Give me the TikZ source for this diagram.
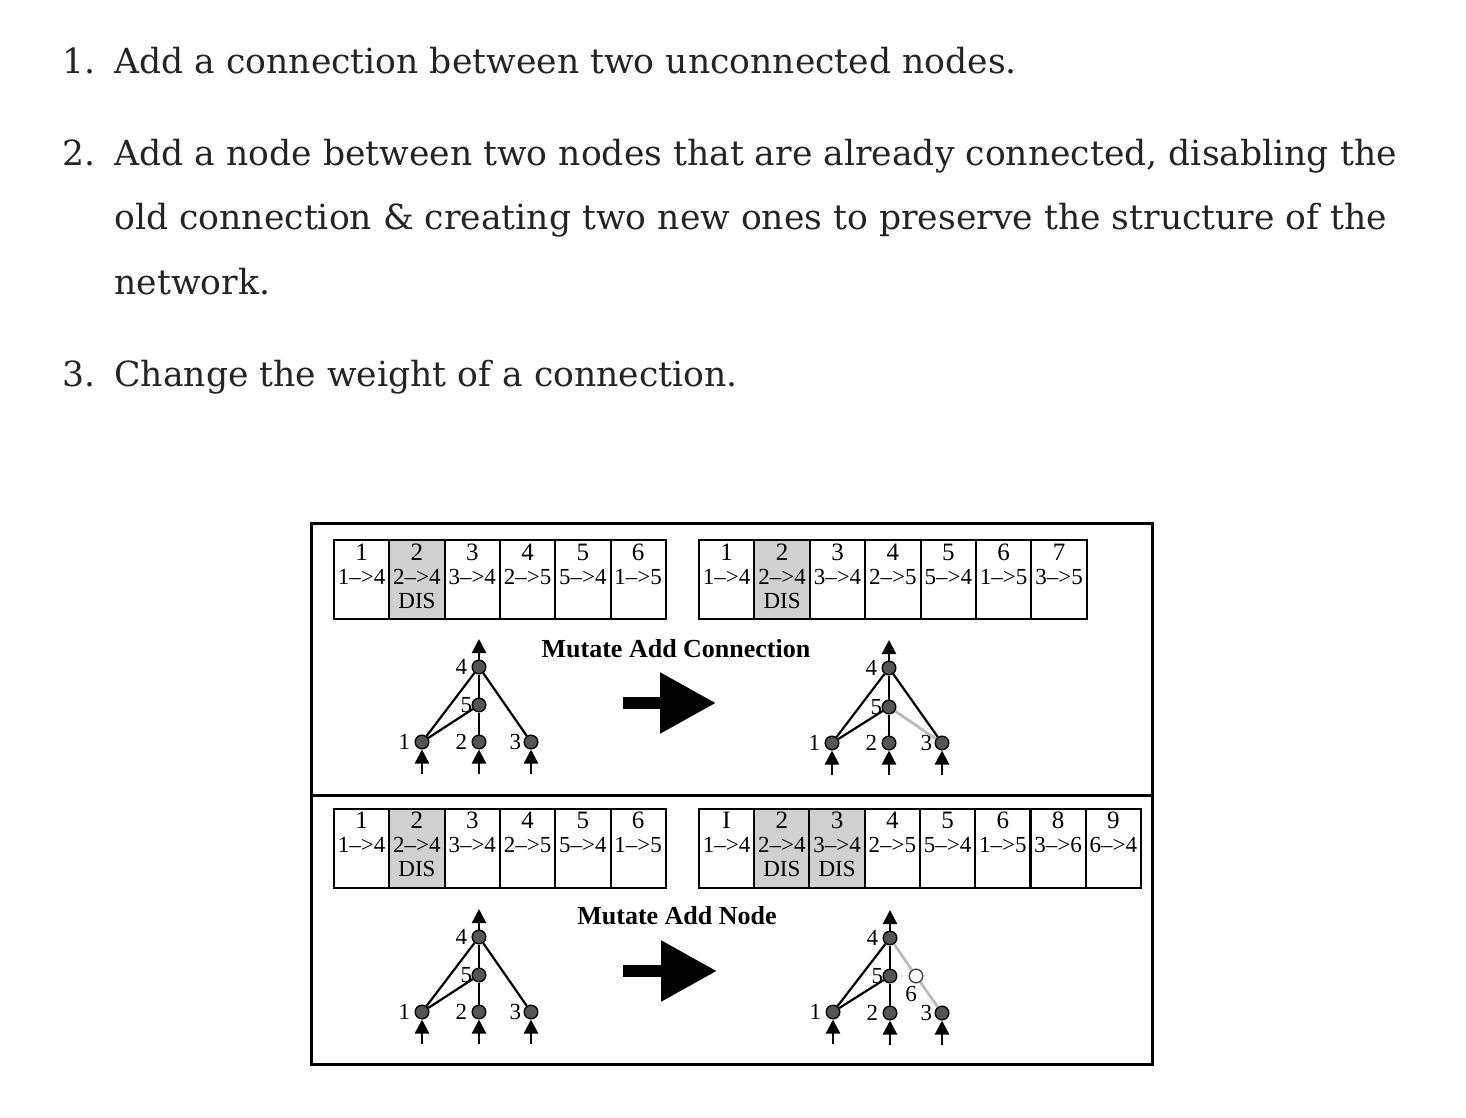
\documentclass[tikz,border=0pt]{standalone}
\usepackage{fontspec}
\setmainfont{DejaVu Serif}
\newfontfamily\figfont{Liberation Serif}
\usetikzlibrary{arrows.meta,positioning}
\definecolor{listtext}{HTML}{242424}
\definecolor{disgray}{HTML}{D0D0D0}
\definecolor{nodegray}{HTML}{555555}
\definecolor{newgray}{HTML}{BBBBBB}

\tikzset{
  listline/.style={anchor=base west, inner sep=0pt, text=listtext,
    font=\fontsize{17.3}{17.3}\selectfont},
  gene/.style={draw, line width=1pt, minimum width=27.65pt, minimum height=39.5pt,
    inner sep=0pt, align=center, font=\figfont\fontsize{11.5}{12}\selectfont},
  disgene/.style={gene, fill=disgray},
  neuron/.style={circle, draw, line width=0.7pt, fill=nodegray, minimum size=6.8pt, inner sep=0pt},
  newneuron/.style={circle, draw=black!75, line width=0.7pt, fill=white, minimum size=6.8pt, inner sep=0pt},
  nlabel/.style={font=\figfont\fontsize{11.5}{11.5}\selectfont, inner sep=0pt},
  link/.style={line width=1.1pt},
  newlink/.style={line width=1.4pt, newgray},
  io/.style={line width=1.2pt, -{Triangle[length=7pt,width=7pt]}},
  bigarrow/.style={line width=6pt, -{Triangle[length=28pt,width=29pt]}},
  mtitle/.style={font=\figfont\bfseries\fontsize{13}{13}\selectfont}
}

\begin{document}
\begin{tikzpicture}[x=0.5pt,y=-0.5pt]
\useasboundingbox (0,0) rectangle (1466,1118);

% the list above the figure
\node[listline] (n1) at (62,74) {1.};
\node[listline] (t1) at (114,74) {Add a connection between two unconnected nodes.};
\node[listline] (n2) at (62,166) {2.};
\node[listline] (t2) at (114,166) {Add a node between two nodes that are already connected, disabling the};
\node[listline] (t3) at (114,230) {old connection \& creating two new ones to preserve the structure of the};
\node[listline] (t4) at (114,294) {network.};
\node[listline] (n3) at (62,386) {3.};
\node[listline] (t5) at (114,386) {Change the weight of a connection.};

% frame
\draw[line width=1.5pt] (311,523) rectangle (1152,1064);
\draw[line width=1.5pt] (311,795) -- (1152,795);

% genomes
\foreach \num/\from/\to/\kind/\dis [count=\i] in
  {1/1/4/gene/{}, 2/2/4/disgene/DIS, 3/3/4/gene/{}, 4/2/5/gene/{}, 5/5/4/gene/{}, 6/1/5/gene/{}}
  \node[\kind] (ga\i) at ({334+55.3*(\i-0.5)},579.5) {{\fontsize{12.5}{12}\selectfont\num}\\\from\textendash{}>\to\\\strut\dis};
\foreach \num/\from/\to/\kind/\dis [count=\i] in
  {1/1/4/gene/{}, 2/2/4/disgene/DIS, 3/3/4/gene/{}, 4/2/5/gene/{}, 5/5/4/gene/{}, 6/1/5/gene/{}, 7/3/5/gene/{}}
  \node[\kind] (gb\i) at ({699+55.4*(\i-0.5)},579.5) {{\fontsize{12.5}{12}\selectfont\num}\\\from\textendash{}>\to\\\strut\dis};
\foreach \num/\from/\to/\kind/\dis [count=\i] in
  {1/1/4/gene/{}, 2/2/4/disgene/DIS, 3/3/4/gene/{}, 4/2/5/gene/{}, 5/5/4/gene/{}, 6/1/5/gene/{}}
  \node[\kind] (gc\i) at ({334+55.3*(\i-0.5)},848) {{\fontsize{12.5}{12}\selectfont\num}\\\from\textendash{}>\to\\\strut\dis};
\foreach \num/\from/\to/\kind/\dis [count=\i] in
  {I/1/4/gene/{}, 2/2/4/disgene/DIS, 3/3/4/disgene/DIS, 4/2/5/gene/{}, 5/5/4/gene/{},
   6/1/5/gene/{}, 8/3/6/gene/{}, 9/6/4/gene/{}}
  \node[\kind] (gd\i) at ({699+55.25*(\i-0.5)},848) {{\fontsize{12.5}{12}\selectfont\num}\\\from\textendash{}>\to\\\strut\dis};

% mutation titles and arrows
\node[mtitle] (ttlA) at (676,649) {Mutate Add Connection};
\node[mtitle] (ttlB) at (677,916) {Mutate Add Node};
\coordinate (arrAs) at (623,703);
\coordinate (arrAe) at (716,703);
\draw[bigarrow] (arrAs) -- (arrAe);
\coordinate (arrBs) at (623,971);
\coordinate (arrBe) at (717,971);
\draw[bigarrow] (arrBs) -- (arrBe);

% network before add connection
\node[neuron] (a4) at (479,667) {};
\node[neuron] (a5) at (479,705) {};
\node[neuron] (a1) at (422,742) {};
\node[neuron] (a2) at (479,742) {};
\node[neuron] (a3) at (531,742) {};
\node[nlabel, left=2pt of a4] (a4l) {4};
\node[nlabel, left=-0.5pt of a5] (a5l) {5};
\node[nlabel, left=2pt of a1] (a1l) {1};
\node[nlabel, left=2pt of a2] (a2l) {2};
\node[nlabel, left=1pt of a3] (a3l) {3};
\draw[link] (a1) -- (a4);
\draw[link] (a1) -- (a5);
\draw[link] (a2) -- (a5);
\draw[link] (a5) -- (a4);
\draw[link] (a3) -- (a4);
\coordinate (a4out) at (479,639);
\coordinate (a1in) at (422,774);
\coordinate (a2in) at (479,774);
\coordinate (a3in) at (531,774);
\draw[io] (a4) -- (a4out);
\draw[io] (a1in) -- (a1);
\draw[io] (a2in) -- (a2);
\draw[io] (a3in) -- (a3);

% network after add connection
\node[neuron] (b4) at (889,668) {};
\node[neuron] (b5) at (889,707) {};
\node[neuron] (b1) at (832,743) {};
\node[neuron] (b2) at (889,743) {};
\node[neuron] (b3) at (942,743) {};
\node[nlabel, left=2pt of b4] (b4l) {4};
\node[nlabel, left=-0.5pt of b5] (b5l) {5};
\node[nlabel, left=2pt of b1] (b1l) {1};
\node[nlabel, left=2pt of b2] (b2l) {2};
\node[nlabel, left=1pt of b3] (b3l) {3};
\draw[newlink] (b5) -- (b3);
\draw[link] (b1) -- (b4);
\draw[link] (b1) -- (b5);
\draw[link] (b2) -- (b5);
\draw[link] (b5) -- (b4);
\draw[link] (b3) -- (b4);
\coordinate (b4out) at (889,640);
\coordinate (b1in) at (832,775);
\coordinate (b2in) at (889,775);
\coordinate (b3in) at (942,775);
\draw[io] (b4) -- (b4out);
\draw[io] (b1in) -- (b1);
\draw[io] (b2in) -- (b2);
\draw[io] (b3in) -- (b3);

% network before add node
\node[neuron] (c4) at (479,937) {};
\node[neuron] (c5) at (479,975) {};
\node[neuron] (c1) at (422,1012) {};
\node[neuron] (c2) at (479,1012) {};
\node[neuron] (c3) at (531,1012) {};
\node[nlabel, left=2pt of c4] (c4l) {4};
\node[nlabel, left=-0.5pt of c5] (c5l) {5};
\node[nlabel, left=2pt of c1] (c1l) {1};
\node[nlabel, left=2pt of c2] (c2l) {2};
\node[nlabel, left=1pt of c3] (c3l) {3};
\draw[link] (c1) -- (c4);
\draw[link] (c1) -- (c5);
\draw[link] (c2) -- (c5);
\draw[link] (c5) -- (c4);
\draw[link] (c3) -- (c4);
\coordinate (c4out) at (479,909);
\coordinate (c1in) at (422,1044);
\coordinate (c2in) at (479,1044);
\coordinate (c3in) at (531,1044);
\draw[io] (c4) -- (c4out);
\draw[io] (c1in) -- (c1);
\draw[io] (c2in) -- (c2);
\draw[io] (c3in) -- (c3);

% network after add node
\node[neuron] (d4) at (890,938) {};
\node[neuron] (d5) at (890,976) {};
\node[neuron] (d1) at (833,1012) {};
\node[neuron] (d2) at (890,1013) {};
\node[neuron] (d3) at (942,1013) {};
\node[newneuron] (d6) at (916,976) {};
\node[nlabel, left=2pt of d4] (d4l) {4};
\node[nlabel, left=-0.5pt of d5] (d5l) {5};
\node[nlabel, left=2pt of d1] (d1l) {1};
\node[nlabel, left=2pt of d2] (d2l) {2};
\node[nlabel, left=1pt of d3] (d3l) {3};
\node[nlabel] (d6l) at (911,994) {6};
\draw[newlink] (d3) -- (d6);
\draw[newlink] (d6) -- (d4);
\draw[link] (d1) -- (d4);
\draw[link] (d1) -- (d5);
\draw[link] (d2) -- (d5);
\draw[link] (d5) -- (d4);
\coordinate (d4out) at (890,910);
\coordinate (d1in) at (833,1044);
\coordinate (d2in) at (890,1045);
\coordinate (d3in) at (942,1045);
\draw[io] (d4) -- (d4out);
\draw[io] (d1in) -- (d1);
\draw[io] (d2in) -- (d2);
\draw[io] (d3in) -- (d3);
\end{tikzpicture}
\end{document}
